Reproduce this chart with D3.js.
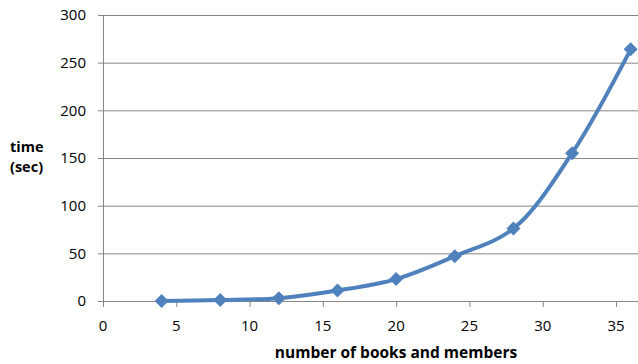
<!DOCTYPE html>
<html>
<head>
<meta charset="utf-8">
<script src="https://cdn.jsdelivr.net/npm/d3@7"></script>
<style>
  body { margin: 0; background: #fff; }
  text { font-family: "Open Sans", "Liberation Sans", sans-serif; fill: #000; }
</style>
</head>
<body>
<svg id="chart"></svg>
<script>
// Data
const members = [4, 8, 12, 16, 20, 24, 28, 32, 36];
const timeSec = [0, 1, 3, 11, 23, 47, 76, 155, 264];
const xTicks = [0, 5, 10, 15, 20, 25, 30, 35];
const yTicks = [0, 50, 100, 150, 200, 250, 300];

const data = members.map((m, i) => ({ x: m, y: timeSec[i] }));

const width = 638, height = 364;
const margin = { top: 15, right: 0, bottom: 63, left: 103 };
const innerW = width - margin.left - margin.right;
const innerH = height - margin.top - margin.bottom;

const svg = d3.select('#chart')
  .attr('width', width)
  .attr('height', height);

const g = svg.append('g')
  .attr('transform', `translate(${margin.left},${margin.top})`);

const xScale = d3.scaleLinear().domain([0, 36.5]).range([0, innerW]);
const yScale = d3.scaleLinear().domain([0, 300]).range([innerH, 0]);

const gridColor = '#868686';

// Horizontal gridlines (extend left as tick marks)
g.selectAll('.grid')
  .data(yTicks)
  .join('line')
  .attr('class', 'grid')
  .attr('x1', -5)
  .attr('x2', innerW)
  .attr('y1', d => yScale(d) + 0.5)
  .attr('y2', d => yScale(d) + 0.5)
  .attr('stroke', gridColor)
  .attr('stroke-width', 1);

// Y axis line
g.append('line')
  .attr('x1', 0.5).attr('x2', 0.5)
  .attr('y1', 0).attr('y2', innerH + 0.5)
  .attr('stroke', gridColor);

// X axis ticks
g.selectAll('.xtick')
  .data(xTicks)
  .join('line')
  .attr('class', 'xtick')
  .attr('x1', d => xScale(d) + 0.5)
  .attr('x2', d => xScale(d) + 0.5)
  .attr('y1', innerH)
  .attr('y2', innerH + 6)
  .attr('stroke', gridColor);

// Tick labels
g.selectAll('.ylabel')
  .data(yTicks)
  .join('text')
  .attr('class', 'ylabel')
  .attr('x', -17)
  .attr('y', d => yScale(d))
  .attr('dy', '0.35em')
  .attr('text-anchor', 'end')
  .style('font-size', '15px')
  .text(d => d);

g.selectAll('.xlabel')
  .data(xTicks)
  .join('text')
  .attr('class', 'xlabel')
  .attr('x', d => xScale(d))
  .attr('y', innerH + 25)
  .attr('dy', '0.35em')
  .attr('text-anchor', 'middle')
  .style('font-size', '15px')
  .text(d => d);

// Axis titles
svg.append('text')
  .attr('x', 396)
  .attr('y', 353)
  .attr('dy', '0.35em')
  .attr('text-anchor', 'middle')
  .style('font-size', '15.5px')
  .style('font-weight', 'bold')
  .text('number of books and members');

const yTitle = svg.append('text')
  .attr('x', 10)
  .attr('y', 147)
  .style('font-size', '14.5px')
  .style('font-weight', 'bold');
yTitle.append('tspan').attr('x', 10).attr('dy', '0.35em').text('time');
yTitle.append('tspan').attr('x', 10).attr('dy', '1.35em').text('(sec)');

// Smoothed series line
const line = d3.line()
  .x(d => xScale(d.x))
  .y(d => yScale(d.y))
  .curve(d3.curveCatmullRom.alpha(0.5));

const seriesColor = '#4F81BD';

g.append('path')
  .datum(data)
  .attr('d', line)
  .attr('fill', 'none')
  .attr('stroke', seriesColor)
  .attr('stroke-width', 4)
  .attr('stroke-linejoin', 'round');

// Diamond markers
g.selectAll('.marker')
  .data(data)
  .join('path')
  .attr('class', 'marker')
  .attr('transform', d => `translate(${xScale(d.x)},${yScale(d.y)})`)
  .attr('d', 'M0,-7 L7,0 L0,7 L-7,0 Z')
  .attr('fill', seriesColor);
</script>
</body>
</html>
